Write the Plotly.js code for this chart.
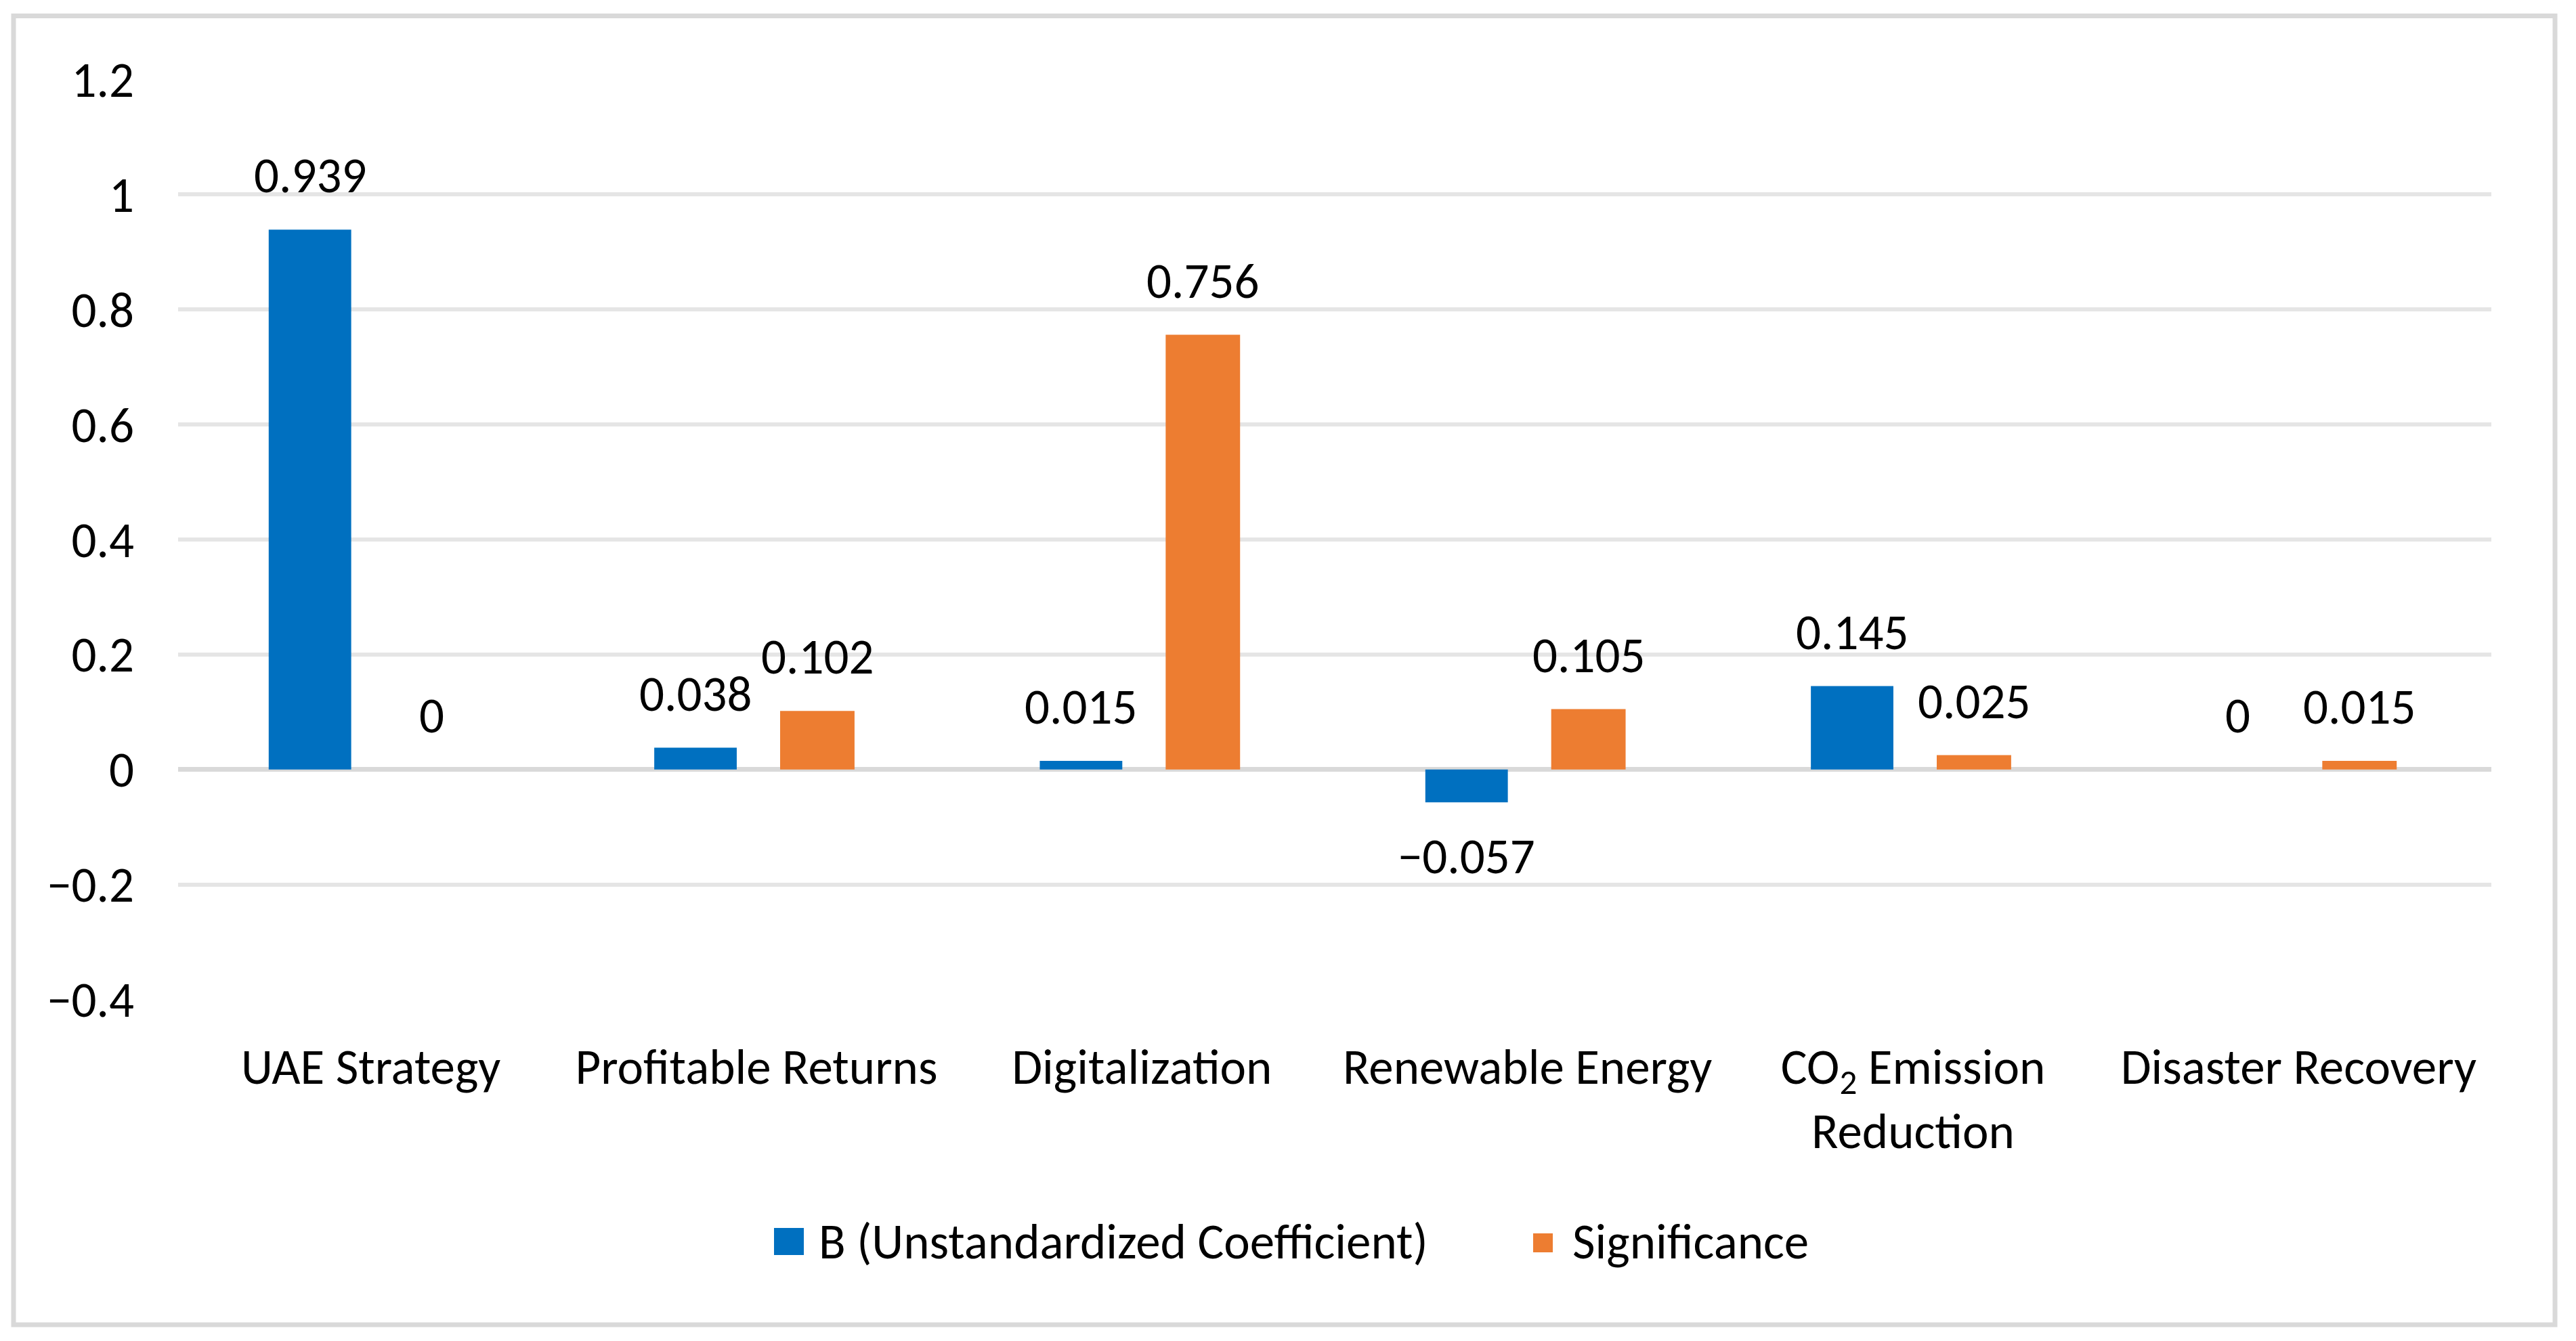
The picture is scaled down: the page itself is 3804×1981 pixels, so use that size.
<!DOCTYPE html>
<html>
<head>
<meta charset="utf-8">
<script src="https://cdn.plot.ly/plotly-3.0.1.min.js"></script>
<style>html,body{margin:0;padding:0;background:#fff;}#chart{width:3804px;height:1981px;}</style>
</head>
<body>
<div id="chart"></div>
<script>
// ---- data ----
const categories = ['UAE Strategy', 'Profitable Returns', 'Digitalization', 'Renewable Energy', 'CO<sub>2</sub> Emission<br>Reduction', 'Disaster Recovery'];
const coefB = [0.939, 0.038, 0.015, -0.057, 0.145, 0];
const significance = [0, 0.102, 0.756, 0.105, 0.025, 0.015];
const seriesNames = ['B (Unstandardized Coefficient)', 'Significance'];
const yTicks = [-0.4, -0.2, 0, 0.2, 0.4, 0.6, 0.8, 1, 1.2];

// ---- style ----
const W = 3804, H = 1981;
const M = {l: 263, r: 125, t: 117, b: 504};
const PW = W - M.l - M.r, PH = H - M.t - M.b;
const px2x = p => (p - M.l) / PW;
const px2y = p => (H - M.b - p) / PH;
const FONT = "Carlito, Calibri, 'Liberation Sans Narrow', 'Open Sans', sans-serif";
const FS = 73;
const BLUE = '#0070C0', ORANGE = '#ED7D31';
const CENTER = 0.158;           // bar centre offset in category units
const WB = 0.214, WO = 0.193;   // bar widths

const fmt = v => (v < 0 ? '\u2212' + Math.abs(v) : String(v));

const traces = [
  {type: 'bar', x: categories, y: coefB, name: seriesNames[0], marker: {color: BLUE},
   width: WB, offset: -CENTER - WB / 2, hoverinfo: 'y'},
  {type: 'bar', x: categories, y: significance, name: seriesNames[1], marker: {color: ORANGE},
   width: WO, offset: CENTER - WO / 2, hoverinfo: 'y'}
];

const annotations = [];
[[coefB, -CENTER], [significance, CENTER]].forEach(([vals, off]) => {
  vals.forEach((v, i) => {
    annotations.push({xref: 'x', yref: 'y', x: i + off, y: v, text: fmt(v), showarrow: false,
      xanchor: 'center', yanchor: 'middle', yshift: v < 0 ? -80 : 80,
      font: {family: FONT, size: FS, color: '#000'}});
  });
});

// legend (manual, to match large swatches)
annotations.push({xref: 'paper', yref: 'paper', x: px2x(1207), y: px2y(1834), text: seriesNames[0],
  showarrow: false, xanchor: 'left', yanchor: 'middle', font: {family: FONT, size: FS, color: '#000'}});
annotations.push({xref: 'paper', yref: 'paper', x: px2x(2320), y: px2y(1834), text: seriesNames[1],
  showarrow: false, xanchor: 'left', yanchor: 'middle', font: {family: FONT, size: FS, color: '#000'}});

const shapes = [
  {type: 'rect', xref: 'paper', yref: 'paper', x0: px2x(20), x1: px2x(3773), y0: px2y(23.5), y1: px2y(1957),
   line: {color: '#d9d9d9', width: 7}, fillcolor: 'rgba(0,0,0,0)', layer: 'below'},
  {type: 'rect', xref: 'paper', yref: 'paper', x0: px2x(1143), x1: px2x(1187), y0: px2y(1814), y1: px2y(1854),
   line: {width: 0}, fillcolor: BLUE},
  {type: 'rect', xref: 'paper', yref: 'paper', x0: px2x(2264), x1: px2x(2293), y0: px2y(1822), y1: px2y(1850),
   line: {width: 0}, fillcolor: ORANGE}
];

const layout = {
  width: W, height: H,
  margin: M,
  paper_bgcolor: '#fff', plot_bgcolor: '#fff',
  barmode: 'overlay',
  showlegend: false,
  font: {family: FONT, size: FS, color: '#000'},
  xaxis: {type: 'category', tickangle: 0, showgrid: false, showline: false, ticks: '',
    automargin: false, ticklabelstandoff: 50, tickfont: {family: FONT, size: FS, color: '#000'}},
  yaxis: {range: [-0.4005, 1.2005], tickvals: yTicks, showgrid: true, gridcolor: '#e5e5e5', gridwidth: 6,
    zeroline: true, zerolinecolor: '#d9d9d9', zerolinewidth: 7, showline: false, ticks: '',
    automargin: false, ticklabelstandoff: 64, tickfont: {family: FONT, size: FS, color: '#000'}},
  annotations: annotations,
  shapes: shapes
};

Plotly.newPlot('chart', traces, layout, {staticPlot: true, displayModeBar: false});
</script>
</body>
</html>
